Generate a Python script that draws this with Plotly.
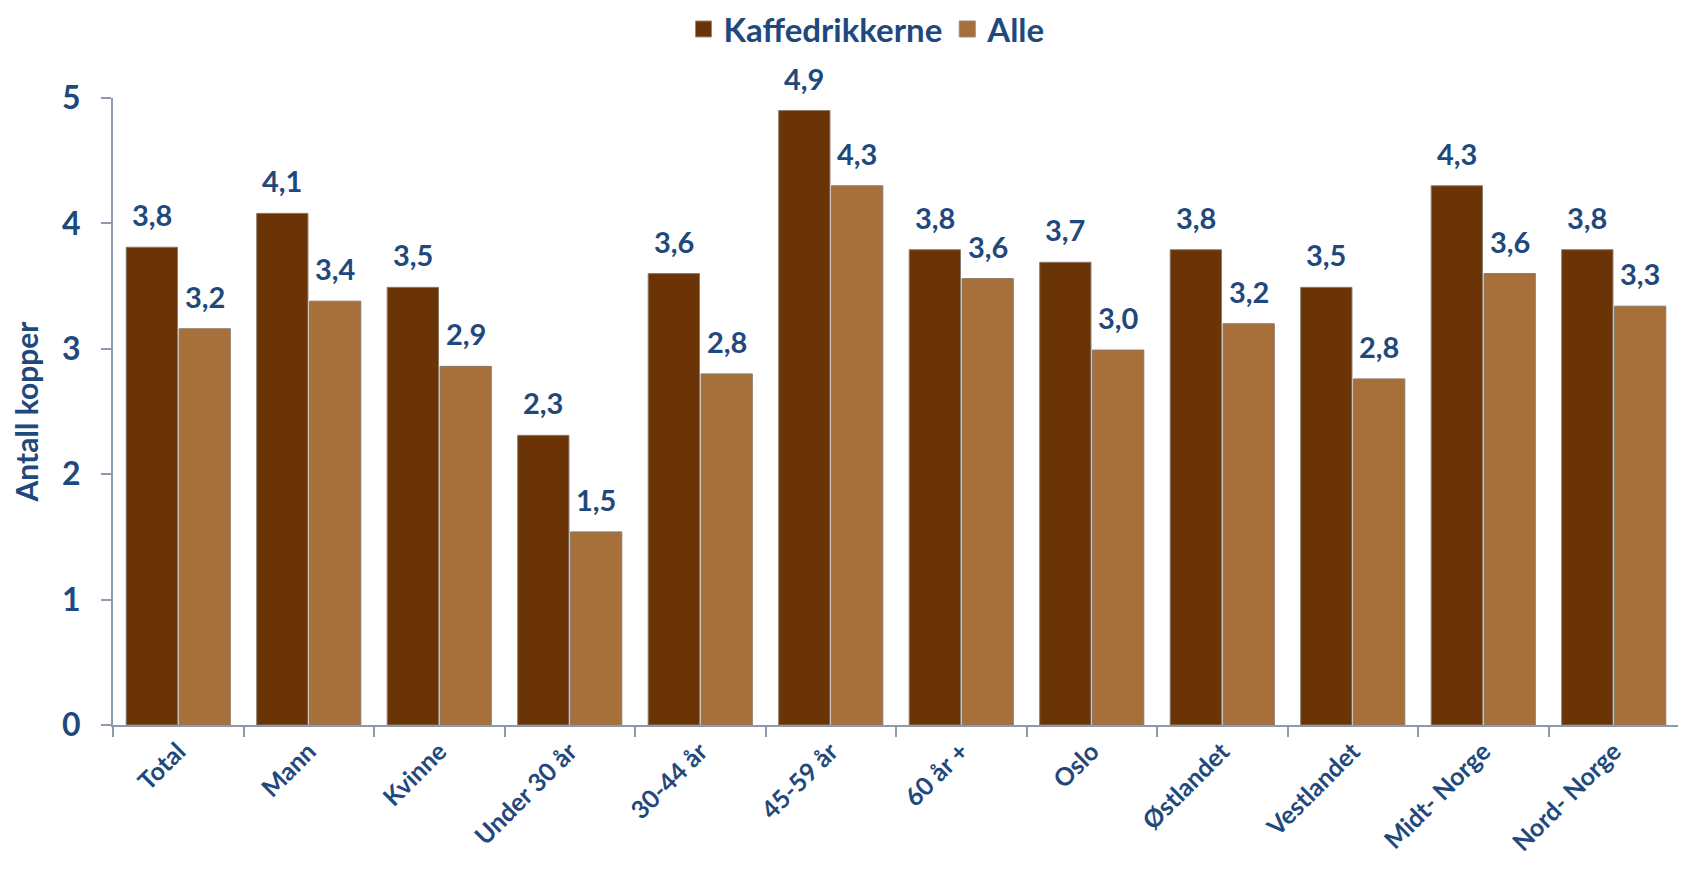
import plotly.graph_objects as go

categories = ["Total", "Mann", "Kvinne", "Under 30 år", "30-44 år", "45-59 år",
              "60 år +", "Oslo", "Østlandet", "Vestlandet", "Midt- Norge", "Nord- Norge"]
kaffedrikkerne = [3.81, 4.08, 3.49, 2.31, 3.60, 4.90, 3.79, 3.69, 3.79, 3.49, 4.30, 3.79]
alle = [3.16, 3.38, 2.86, 1.54, 2.80, 4.30, 3.56, 2.99, 3.20, 2.76, 3.60, 3.34]
series_names = ["Kaffedrikkerne", "Alle"]
y_ticks = [0, 1, 2, 3, 4, 5]

BLUE = "#1F497D"
AXIS = "#8E98AE"
FONT = "Lato"
DARK = "#6B3407"
LIGHT = "#A7703B"

fig = go.Figure()
for name, vals, col in [(series_names[0], kaffedrikkerne, DARK), (series_names[1], alle, LIGHT)]:
    fig.add_trace(go.Bar(
        name=name, x=categories, y=vals, showlegend=False,
        marker=dict(color=col, line=dict(color="#8A7A6A", width=1)),
        hoverinfo="x+y",
    ))
# legend entries with larger square swatches
for name, col in [(series_names[0], DARK), (series_names[1], LIGHT)]:
    fig.add_trace(go.Scatter(
        name=name, x=[None], y=[None], mode="markers",
        marker=dict(symbol="square", size=20, color=col, line=dict(color="#9A8A7A", width=1)),
    ))

def fmt(v):
    return f"{v:.1f}".replace(".", ",")

annotations = []
for i, c in enumerate(categories):
    for vals, shift in [(kaffedrikkerne, -26.5), (alle, 26.5)]:
        annotations.append(dict(
            x=c, y=vals[i], xref="x", yref="y", text=fmt(vals[i]),
            showarrow=False, xshift=shift, yshift=13, yanchor="bottom",
            font=dict(family=FONT, size=29, color=BLUE, weight=700),
        ))

fig.update_layout(
    width=1678, height=864,
    margin=dict(l=105, r=7, t=90, b=147, autoexpand=False),
    paper_bgcolor="white", plot_bgcolor="white",
    barmode="group", bargap=0.19, bargroupgap=0.03,
    separators=", ",
    font=dict(family=FONT, color=BLUE),
    legend=dict(orientation="h", x=0.4815, xanchor="center", y=1.11, yanchor="middle",
                font=dict(family=FONT, size=33, color=BLUE, weight=700),
                itemwidth=30, traceorder="normal", itemsizing="trace"),
    annotations=annotations,
    yaxis=dict(
        range=[0, 5], tickvals=y_ticks, showgrid=False, zeroline=False,
        showline=True, linecolor=AXIS, linewidth=2,
        ticks="outside", ticklen=10, tickcolor=AXIS, tickwidth=2,
        ticklabelstandoff=14,
        tickfont=dict(family=FONT, size=32, color=BLUE, weight=700),
        title=dict(text="Antall kopper", standoff=38,
                   font=dict(family=FONT, size=30, color=BLUE, weight=700)),
    ),
    xaxis=dict(
        showgrid=False, showline=True, linecolor=AXIS, linewidth=2,
        ticks="outside", ticklen=10, tickcolor=AXIS, tickwidth=2,
        tickson="boundaries", tickangle=-45,
        tickfont=dict(family=FONT, size=25, color=BLUE, weight=700),
    ),
)

fig.write_html("out.html")
